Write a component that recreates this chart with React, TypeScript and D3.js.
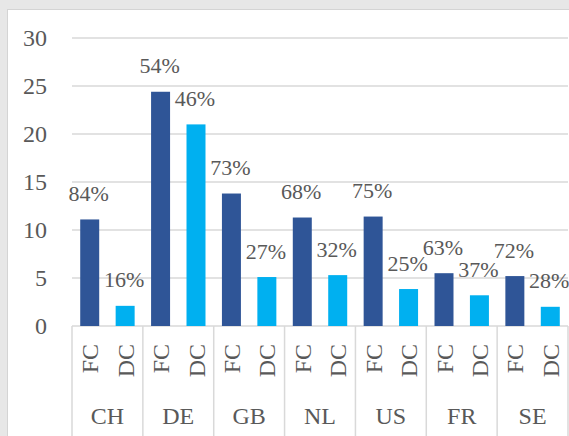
import * as d3 from 'd3'

const COUNTRIES = ['CH', 'DE', 'GB', 'NL', 'US', 'FR', 'SE']
const SERIES = ['FC', 'DC']
const FC_VALUES = [11.1, 24.4, 13.8, 11.3, 11.4, 5.5, 5.2]
const DC_VALUES = [2.1, 21.0, 5.1, 5.3, 3.85, 3.2, 2.0]
const FC_SHARE = ['84%', '54%', '73%', '68%', '75%', '63%', '72%']
const DC_SHARE = ['16%', '46%', '27%', '32%', '25%', '37%', '28%']
const Y_TICKS = [0, 5, 10, 15, 20, 25, 30]

const COLOR: Record<string, string> = { FC: '#2f5597', DC: '#00b0f0' }
const GRID = '#d9d9d9'
const TEXT = '#595959'
const FONT = '"Liberation Serif", "Times New Roman", serif'

const W = 569
const H = 436

export default function App() {
  const left = 72
  const right = 568
  const top = 38
  const bottom = 326

  const x = d3.scaleBand<string>().domain(COUNTRIES).range([left, right])
  const xs = d3
    .scaleBand<string>()
    .domain(SERIES)
    .range([0, x.bandwidth()])
    .paddingInner(0.464)
    .paddingOuter(0.232)
  const y = d3.scaleLinear().domain([0, 30]).range([bottom, top])

  // flatten into one row per bar
  const bars = COUNTRIES.flatMap((c, i) => [
    { c, s: 'FC', v: FC_VALUES[i], label: FC_SHARE[i] },
    { c, s: 'DC', v: DC_VALUES[i], label: DC_SHARE[i] },
  ])

  return (
    <svg
      width={W}
      height={H}
      style={{ position: 'absolute', left: 0, top: 0, display: 'block' }}
      fontFamily={FONT}
    >
      <rect x={0} y={0} width={W} height={H} fill="#e7e7e7" />
      <rect x={7.5} y={9.5} width={W} height={H} fill="#fff" stroke="#d4d4d4" />

      {/* gridlines + y ticks */}
      {Y_TICKS.map((t) => (
        <g key={t}>
          <line x1={left} x2={right} y1={y(t)} y2={y(t)} stroke={GRID} strokeWidth={1.5} />
          <text x={47} y={y(t)} dy="0.35em" textAnchor="end" fontSize={24} fill={TEXT}>
            {t}
          </text>
        </g>
      ))}

      {/* category separators */}
      {COUNTRIES.map((c) => (
        <line
          key={'sep' + c}
          x1={x(c)!}
          x2={x(c)!}
          y1={bottom}
          y2={H}
          stroke={GRID}
          strokeWidth={1.5}
        />
      ))}
      <line x1={right} x2={right} y1={bottom} y2={H} stroke={GRID} strokeWidth={1.5} />

      {/* bars */}
      {bars.map((b) => {
        const bx = x(b.c)! + xs(b.s)!
        const cx = bx + xs.bandwidth() / 2
        return (
          <g key={b.c + b.s}>
            <rect
              x={bx}
              y={y(b.v)}
              width={xs.bandwidth()}
              height={bottom - y(b.v)}
              fill={COLOR[b.s]}
            />
            <text
              x={cx - 1}
              y={y(b.v) - 18.5}
              textAnchor="middle"
              fontSize={22}
              fill={TEXT}
            >
              {b.label}
            </text>
            <text
              transform={`translate(${cx + 8.5},344) rotate(-90)`}
              textAnchor="end"
              fontSize={24}
              fill={TEXT}
            >
              {b.s}
            </text>
          </g>
        )
      })}

      {/* country labels */}
      {COUNTRIES.map((c) => (
        <text
          key={'lab' + c}
          x={x(c)! + x.bandwidth() / 2}
          y={424}
          textAnchor="middle"
          fontSize={24}
          fill={TEXT}
        >
          {c}
        </text>
      ))}
    </svg>
  )
}
